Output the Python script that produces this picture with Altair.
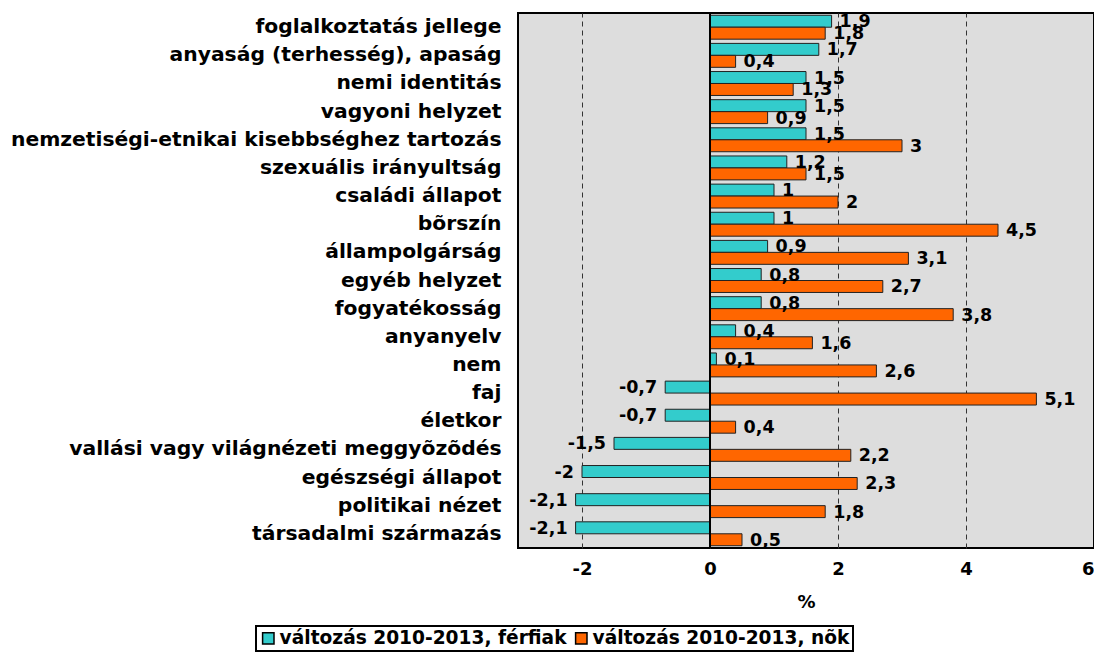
import altair as alt
import pandas as pd

categories = [
    "foglalkoztatás jellege",
    "anyaság (terhesség), apaság",
    "nemi identitás",
    "vagyoni helyzet",
    "nemzetiségi-etnikai kisebbséghez tartozás",
    "szexuális irányultság",
    "családi állapot",
    "bõrszín",
    "állampolgárság",
    "egyéb helyzet",
    "fogyatékosság",
    "anyanyelv",
    "nem",
    "faj",
    "életkor",
    "vallási vagy világnézeti meggyõzõdés",
    "egészségi állapot",
    "politikai nézet",
    "társadalmi származás",
]
ferfiak = [1.9, 1.7, 1.5, 1.5, 1.5, 1.2, 1, 1, 0.9, 0.8, 0.8, 0.4, 0.1, -0.7, -0.7, -1.5, -2, -2.1, -2.1]
nok = [1.8, 0.4, 1.3, 0.9, 3, 1.5, 2, 4.5, 3.1, 2.7, 3.8, 1.6, 2.6, 5.1, 0.4, 2.2, 2.3, 1.8, 0.5]
series = ["változás 2010-2013, férfiak", "változás 2010-2013, nõk"]
colors = ["#33CCCC", "#FF6600"]
x_ticks = [-2, 0, 2, 4, 6]

rows = []
for i, c in enumerate(categories):
    for s, vals in zip(series, [ferfiak, nok]):
        v = vals[i]
        rows.append({"cat": c, "series": s, "value": v,
                     "label": f"{v:g}".replace(".", ",")})
df = pd.DataFrame(rows)

FONT = "DejaVu Sans"
FS_Y = 20.3
FS_X = 18
FS_BAR = 17.5
FS_LEG = 18.6

y_enc = alt.Y("cat:N", sort=categories, title=None,
              scale=alt.Scale(paddingInner=0.15, paddingOuter=0.08),
              axis=alt.Axis(labelFont=FONT, labelFontWeight="bold", labelFontSize=FS_Y,
                            labelColor="#000", ticks=False, domain=False,
                            labelPadding=17, labelLimit=700))
y_off = alt.YOffset("series:N", sort=series, scale=alt.Scale(paddingInner=0, paddingOuter=0))
x_scale = alt.Scale(domain=[-3, 6], nice=False, zero=False)

base = alt.Chart(df)

bars = base.mark_bar(stroke="#222", strokeWidth=1).encode(
    x=alt.X("value:Q", scale=x_scale, title="%",
            axis=alt.Axis(values=x_ticks, labelFont=FONT, labelFontWeight="bold",
                          labelFontSize=FS_X, labelColor="#000", titleFont=FONT,
                          titleFontWeight="bold", titleFontSize=FS_X, titleColor="#000",
                          titlePadding=15, ticks=False, domain=False, labelPadding=12,
                          grid=True, gridDash=[5, 4], gridColor="#333", gridWidth=1,
                          labelExpr="datum.value == 0 ? '0' : replace(format(datum.value, 'd'), '−', '-')")),
    y=y_enc,
    yOffset=y_off,
    color=alt.Color("series:N", sort=series, scale=alt.Scale(domain=series, range=colors),
                    legend=alt.Legend(title=None, orient="none", legendX=-262, legendY=613,
                                      direction="horizontal", labelFont=FONT,
                                      labelFontWeight="bold", labelFontSize=FS_LEG,
                                      labelColor="#000", symbolType="square",
                                      symbolSize=130, symbolStrokeColor="#000",
                                      symbolStrokeWidth=1.5, symbolOpacity=1,
                                      labelLimit=500,
                                      padding=3, columnPadding=5, labelOffset=2)),
)

pos_text = base.transform_filter("datum.value >= 0").mark_text(
    align="left", baseline="middle", dx=8, dy=1, font=FONT, fontWeight="bold",
    fontSize=FS_BAR, color="#000").encode(
    x=alt.X("value:Q", scale=x_scale), y=alt.Y("cat:N", sort=categories), yOffset=y_off,
    text="label:N")

neg_text = base.transform_filter("datum.value < 0").mark_text(
    align="right", baseline="middle", dx=-8, dy=1, font=FONT, fontWeight="bold",
    fontSize=FS_BAR, color="#000").encode(
    x=alt.X("value:Q", scale=x_scale), y=alt.Y("cat:N", sort=categories), yOffset=y_off,
    text="label:N")

zero = alt.Chart(pd.DataFrame({"z": [0]})).mark_rule(color="#000", strokeWidth=2).encode(
    x=alt.X("z:Q", scale=x_scale))

chart = alt.layer(bars, zero, pos_text, neg_text).properties(
    width=576, height=535,
    padding={"left": 2, "top": 4, "right": 0, "bottom": 2},
).configure_view(fill="#DDDDDD", stroke="#000", strokeWidth=2
).configure_legend(strokeColor="#000", strokeWidth=2)

chart.save("out.html", embed_options={"renderer": "svg", "actions": False})
